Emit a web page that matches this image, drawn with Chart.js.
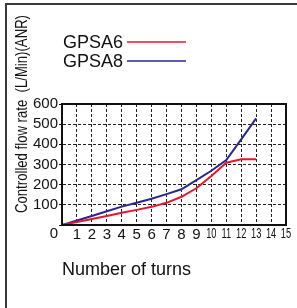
<!DOCTYPE html>
<html lang="en">
<head>
    <meta charset="UTF-8">
    <title>GPSA flow rate</title>
    <script src="https://cdn.jsdelivr.net/npm/chart.js"></script>
    <style>
        body {
            margin: 0;
            background: #fff;
        }
        .wrap {
            position: relative;
            width: 297px;
            height: 308px;
            overflow: hidden;
        }
        .frame {
            position: absolute;
            left: 5px;
            top: 3px;
            width: 320px;
            height: 340px;
            border: 2px solid #3a3a3a;
        }
        canvas {
            position: absolute;
            left: 0;
            top: 0;
        }
    </style>
</head>
<body>
<div class="wrap">
    <div class="frame"></div>
    <canvas id="flowChart" width="297" height="308"></canvas>
</div>

<script>
    // data
    const turns = [0, 1, 2, 3, 4, 5, 6, 7, 8, 9, 10, 11, 12, 13];
    const gpsa6 = [0, 15, 30, 45, 61, 75, 90, 110, 140, 182, 243, 309, 326, 326];
    const gpsa8 = [0, 22, 45, 68, 91, 110, 130, 153, 177, 223, 269, 322, 425, 529];
    const seriesNames = ['GPSA6', 'GPSA8'];
    const xTitle = 'Number of turns';
    const yTitle = 'Controlled flow rate  (L/Min)(ANR)';

    const sans = '"Liberation Sans", Arial, sans-serif';

    // frame, squeezed tick labels, axis titles and legend
    const extras = {
        id: 'extras',
        afterDraw(chart) {
            const {ctx, chartArea: a, scales: {x}} = chart;
            ctx.save();
            ctx.lineWidth = 2;
            ctx.strokeStyle = '#111';
            ctx.strokeRect(a.left, a.top, a.right - a.left, a.bottom - a.top);

            ctx.fillStyle = '#111';
            ctx.font = '15px ' + sans;
            ctx.textAlign = 'center';
            ctx.textBaseline = 'middle';
            ctx.fillText('0', x.getPixelForValue(0) - 8, a.bottom + 9);

            // 10..15 are printed narrow in the picture
            x.ticks.forEach(t => {
                if (t.value < 10) return;
                ctx.save();
                ctx.translate(x.getPixelForValue(t.value), a.bottom + 9);
                ctx.scale(0.62, 1);
                ctx.fillText(String(t.value), 0, 0);
                ctx.restore();
            });

            ctx.font = '18px ' + sans;
            ctx.textAlign = 'left';
            ctx.textBaseline = 'alphabetic';
            ctx.fillText(xTitle, a.left, 275);

            chart.data.datasets.forEach((ds, i) => {
                const cy = 42 + i * 19;
                ctx.fillStyle = '#111';
                ctx.font = '18px ' + sans;
                ctx.textBaseline = 'middle';
                ctx.fillText(ds.label, 63, cy + 1);
                ctx.strokeStyle = ds.borderColor;
                ctx.lineWidth = 1.5;
                ctx.beginPath();
                ctx.moveTo(127, cy);
                ctx.lineTo(186, cy);
                ctx.stroke();
            });

            // y title, squeezed to the width it has in the picture
            ctx.translate(27, 114);
            ctx.rotate(-Math.PI / 2);
            ctx.font = '17px ' + sans;
            ctx.textAlign = 'center';
            ctx.textBaseline = 'alphabetic';
            ctx.fillStyle = '#111';
            const w = ctx.measureText(yTitle).width;
            ctx.scale(198 / w, 1);
            ctx.fillText(yTitle, 0, 0);
            ctx.restore();
        }
    };

    const ctx = document.getElementById('flowChart').getContext('2d');
    const flowChart = new Chart(ctx, {
        type: 'line',
        data: {
            datasets: [{
                label: seriesNames[0],
                data: turns.map((t, i) => ({x: t, y: gpsa6[i]})),
                borderColor: '#e8142c',
                borderWidth: 2,
                pointRadius: 0,
                tension: 0
            }, {
                label: seriesNames[1],
                data: turns.map((t, i) => ({x: t, y: gpsa8[i]})),
                borderColor: '#27278c',
                borderWidth: 2,
                pointRadius: 0,
                tension: 0
            }]
        },
        options: {
            responsive: false,
            animation: false,
            layout: {
                padding: {left: 0, top: 104, right: 11, bottom: 63}
            },
            plugins: {
                legend: {display: false},
                tooltip: {enabled: false}
            },
            scales: {
                x: {
                    type: 'linear',
                    min: 0,
                    max: 15,
                    afterFit: s => { s.height = 20; },
                    ticks: {
                        stepSize: 1,
                        padding: 1,
                        color: '#111',
                        maxRotation: 0,
                        autoSkip: false,
                        callback: v => (v === 0 || v >= 10) ? '' : String(v),
                        font: {family: sans, size: 15}
                    },
                    grid: {
                        drawTicks: false,
                        color: c => (c.tick && (c.tick.value === 0 || c.tick.value === 15)) ? 'rgba(0,0,0,0)' : '#222',
                        lineWidth: 1
                    },
                    border: {color: '#111', width: 2, dash: [3, 2]}
                },
                y: {
                    min: 0,
                    max: 600,
                    afterFit: s => { s.width = 62; },
                    ticks: {
                        stepSize: 100,
                        padding: 1,
                        color: '#111',
                        autoSkip: false,
                        callback: v => v === 0 ? '' : String(v),
                        font: {family: sans, size: 15}
                    },
                    grid: {
                        drawTicks: true,
                        tickLength: 3,
                        tickColor: '#111',
                        color: c => (c.tick && (c.tick.value === 0 || c.tick.value === 600)) ? 'rgba(0,0,0,0)' : '#222',
                        lineWidth: 1
                    },
                    border: {color: '#111', width: 2, dash: [3, 2]}
                }
            }
        },
        plugins: [extras]
    });
</script>
</body>
</html>
